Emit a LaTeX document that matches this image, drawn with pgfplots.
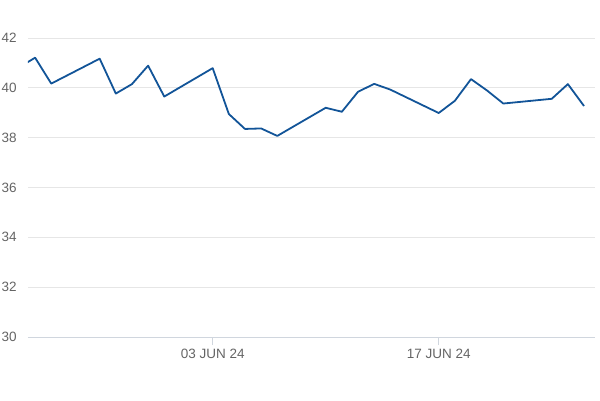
\documentclass[border=0pt]{standalone}
\usepackage{pgfplots}
\pgfplotsset{compat=1.18}
\usepackage{fontspec}
\setmainfont{Liberation Sans}
\definecolor{lineblue}{RGB}{18,84,152}
\definecolor{gridgray}{RGB}{230,230,230}
\definecolor{axisgray}{RGB}{208,214,222}
\definecolor{labelgray}{RGB}{100,100,100}
\begin{document}
\begin{tikzpicture}[x=1pt,y=1pt]
\path[use as bounding box] (-28,-63) rectangle (572,337);
\begin{axis}[
  at={(0,0)}, anchor=south west,
  scale only axis, width=567pt, height=299pt,
  xmin=-11.44, xmax=23.68, ymin=30, ymax=42,
  ytick={30,32,...,42},
  xtick={0,14}, xticklabels={03 JUN 24,17 JUN 24},
  axis x line*=bottom, axis y line*=left,
  y axis line style={draw=none},
  x axis line style={draw=axisgray, line width=1pt, -},
  ymajorgrids, grid style={draw=gridgray, line width=1pt},
  tick align=outside,
  xtick style={draw=axisgray, line width=0.8pt},
  major tick length=8pt,
  ytick style={draw=none},
  /pgf/number format/assume math mode=true,
  tick label style={font=\fontsize{13.5}{15}\selectfont, text=labelgray},
  yticklabel style={anchor=west, inner sep=0pt, xshift=-18.5pt},
  xticklabel style={inner sep=0pt, yshift=-4pt},
  clip=true,
]
\addplot[lineblue, line width=1.8pt, line join=round] coordinates {
(-12,40.82) (-11,41.21) (-10,40.17) (-7,41.17) (-6,39.77) (-5,40.15) (-4,40.89) (-3,39.65)
(0,40.79) (1,38.95) (2,38.35) (3,38.37) (4,38.07)
(7,39.20) (8,39.04) (9,39.84) (10,40.16) (11,39.93)
(14,38.99) (15,39.48) (16,40.35) (17,39.89) (18,39.37)
(21,39.56) (22,40.15) (23,39.27)
};
\end{axis}
\end{tikzpicture}
\end{document}
